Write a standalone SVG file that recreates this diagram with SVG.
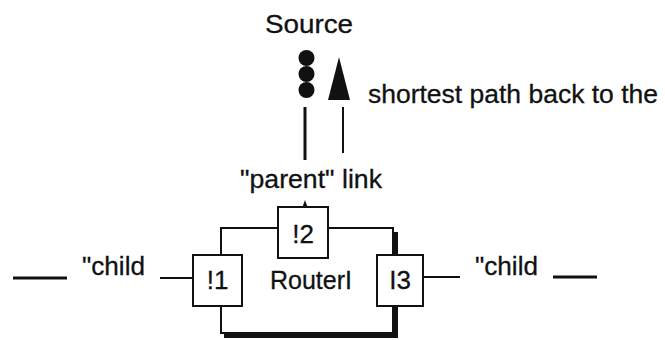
<svg xmlns="http://www.w3.org/2000/svg" width="665" height="340" viewBox="0 0 665 340">
<style>
text{font-family:"Liberation Sans",Arial,sans-serif;font-size:26px;fill:#111;stroke:#111;stroke-width:0.3}
.box{fill:#fff;stroke:#111;stroke-width:2}
.ln{stroke:#111;fill:none;stroke-width:2}
.thick{stroke:#111;fill:none;stroke-width:3}
.shadow{stroke:#111;fill:none;stroke-width:5}
</style>
<rect width="665" height="340" fill="#fff"/>
<g id="connectors">
  <path class="shadow" d="M395.5,232 V335.5 H224"/>
  <path class="ln" d="M221,255 V228 H278 M328,228 H393 V255 M393,306 V333 H221 V306"/>
  <line class="ln" x1="160" y1="278" x2="193" y2="278"/>
  <line class="thick" x1="13" y1="278" x2="67" y2="278"/>
  <line class="ln" x1="423" y1="277" x2="460" y2="277"/>
  <line class="thick" x1="553" y1="277" x2="597" y2="277"/>
  <line class="thick" x1="305" y1="107" x2="305" y2="160"/>
  <line class="ln" x1="343" y1="107" x2="343" y2="153"/>
  <path d="M305,200 L302.5,207 H307.5 Z" fill="#111"/>
  <path d="M339,57 L328,100 H350 Z" fill="#111"/>
</g>
<g id="source">
  <text x="265" y="33" textLength="88" lengthAdjust="spacingAndGlyphs">Source</text>
  <circle cx="306.5" cy="58" r="8" fill="#111"/>
  <circle cx="306.5" cy="74" r="8" fill="#111"/>
  <circle cx="306.5" cy="90" r="8" fill="#111"/>
</g>
<g id="label-shortest">
  <text x="368" y="103" textLength="290" lengthAdjust="spacingAndGlyphs">shortest path back to the</text>
</g>
<g id="label-parent">
  <text x="240" y="188" textLength="142" lengthAdjust="spacingAndGlyphs">"parent" link</text>
</g>
<g id="label-child-left">
  <text x="82" y="275" textLength="63" lengthAdjust="spacingAndGlyphs">"child</text>
</g>
<g id="label-child-right">
  <text x="475" y="275" textLength="63" lengthAdjust="spacingAndGlyphs">"child</text>
</g>
<g id="box-i1">
  <rect class="box" x="193" y="255" width="49" height="51"/>
  <text x="217.5" y="289" text-anchor="middle">!1</text>
</g>
<g id="box-i2">
  <rect class="box" x="278" y="207" width="50" height="51"/>
  <text x="303" y="243" text-anchor="middle">!2</text>
</g>
<g id="box-i3">
  <rect class="box" x="377" y="255" width="46" height="51"/>
  <text x="400" y="289" text-anchor="middle">I3</text>
</g>
<g id="router-label">
  <text x="270" y="289" textLength="82" lengthAdjust="spacingAndGlyphs">RouterI</text>
</g>
</svg>
